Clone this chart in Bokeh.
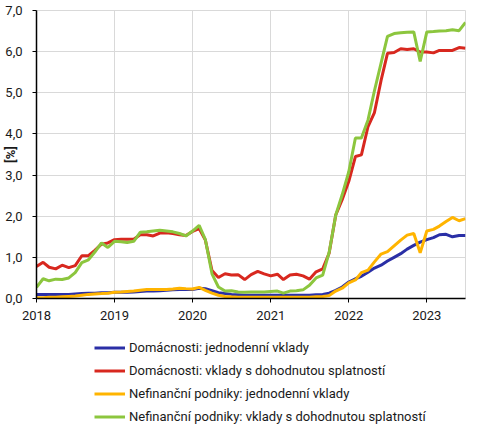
import pandas as pd
from bokeh.plotting import figure
from bokeh.layouts import column
from bokeh.models import Legend, LegendItem, FixedTicker, DatetimeTickFormatter, ColumnDataSource, Range1d
from bokeh.embed import file_html
from bokeh.resources import INLINE

months = pd.date_range("2018-01-01", periods=67, freq="MS")

hh_overnight = [
    0.10, 0.10, 0.10, 0.10, 0.10, 0.10, 0.11, 0.12, 0.13, 0.13, 0.14, 0.14,
    0.15, 0.15, 0.15, 0.16, 0.17, 0.18, 0.18, 0.19, 0.20, 0.21, 0.22, 0.22,
    0.22, 0.25, 0.24, 0.19, 0.14, 0.12, 0.10, 0.09, 0.08, 0.08, 0.08, 0.08,
    0.08, 0.08, 0.08, 0.08, 0.08, 0.08, 0.08, 0.09, 0.10, 0.13, 0.20, 0.28,
    0.40, 0.48, 0.54, 0.64, 0.74, 0.81, 0.91, 1.00, 1.09, 1.20, 1.29, 1.37,
    1.43, 1.48, 1.55, 1.56, 1.50, 1.53, 1.53,
]
hh_term = [
    0.78, 0.88, 0.76, 0.72, 0.81, 0.75, 0.80, 1.04, 1.04, 1.17, 1.32, 1.35,
    1.43, 1.44, 1.44, 1.44, 1.55, 1.55, 1.52, 1.59, 1.60, 1.58, 1.55, 1.53,
    1.63, 1.70, 1.42, 0.68, 0.51, 0.60, 0.57, 0.58, 0.46, 0.58, 0.66, 0.60,
    0.55, 0.59, 0.46, 0.57, 0.59, 0.55, 0.47, 0.65, 0.72, 1.10, 2.03, 2.40,
    2.85, 3.45, 3.49, 4.18, 4.52, 5.30, 5.96, 5.98, 6.07, 6.05, 6.07, 5.99,
    5.99, 5.97, 6.03, 6.03, 6.03, 6.10, 6.08,
]
nfc_overnight = [
    0.02, 0.02, 0.03, 0.03, 0.04, 0.05, 0.06, 0.08, 0.10, 0.11, 0.12, 0.13,
    0.15, 0.16, 0.17, 0.18, 0.20, 0.22, 0.22, 0.22, 0.22, 0.23, 0.25, 0.24,
    0.23, 0.27, 0.20, 0.13, 0.08, 0.05, 0.04, 0.03, 0.03, 0.03, 0.03, 0.03,
    0.03, 0.03, 0.03, 0.03, 0.03, 0.03, 0.03, 0.04, 0.05, 0.07, 0.18, 0.25,
    0.38, 0.45, 0.63, 0.69, 0.89, 1.08, 1.14, 1.28, 1.42, 1.54, 1.58, 1.11,
    1.64, 1.68, 1.76, 1.87, 1.97, 1.89, 1.94,
]
nfc_term = [
    0.27, 0.48, 0.43, 0.47, 0.46, 0.50, 0.63, 0.87, 0.94, 1.13, 1.35, 1.24,
    1.39, 1.38, 1.36, 1.39, 1.61, 1.62, 1.64, 1.66, 1.64, 1.62, 1.58, 1.52,
    1.64, 1.78, 1.43, 0.60, 0.28, 0.18, 0.19, 0.16, 0.15, 0.16, 0.16, 0.16,
    0.17, 0.18, 0.13, 0.18, 0.19, 0.21, 0.32, 0.50, 0.57, 1.12, 2.03, 2.52,
    3.08, 3.90, 3.90, 4.34, 5.05, 5.72, 6.37, 6.44, 6.46, 6.47, 6.48, 5.76,
    6.48, 6.49, 6.50, 6.51, 6.53, 6.51, 6.71,
]

series_names = [
    "Domácnosti: jednodenní vklady",
    "Domácnosti: vklady s dohodnutou splatností",
    "Nefinanční podniky: jednodenní vklady",
    "Nefinanční podniky: vklady s dohodnutou splatností",
]
series_colors = ["#2A2FA6", "#D8281F", "#FFB400", "#8CC63E"]
series_values = [hh_overnight, hh_term, nfc_overnight, nfc_term]

y_ticks = [0, 1, 2, 3, 4, 5, 6, 7]
y_tick_labels = ["0,0", "1,0", "2,0", "3,0", "4,0", "5,0", "6,0", "7,0"]
x_tick_years = ["2018", "2019", "2020", "2021", "2022", "2023"]

FONT = "Roboto"
TEXT_COLOR = "#1a1a1a"

p = figure(
    width=477, height=328,
    x_axis_type="datetime",
    x_range=(months[0], months[-1]),
    y_range=(0, 7),
    output_backend="svg", toolbar_location=None,
    min_border_left=30, min_border_right=12, min_border_top=10, min_border_bottom=30,
)
p.background_fill_color = "white"
p.border_fill_color = "white"
p.outline_line_color = "#D9D9D9"
p.outline_line_width = 1

source = ColumnDataSource(dict(x=months, **{f"s{i}": v for i, v in enumerate(series_values)}))
for i, col in enumerate(series_colors):
    p.line("x", f"s{i}", source=source, line_color=col, line_width=3)

p.yaxis.ticker = FixedTicker(ticks=y_ticks)
p.yaxis.major_label_overrides = {float(t): l for t, l in zip(y_ticks, y_tick_labels)}
p.xaxis.ticker = FixedTicker(ticks=[pd.Timestamp(f"{y}-01-01").value / 1e6 for y in x_tick_years])
p.xaxis.formatter = DatetimeTickFormatter(years="%Y", months="%Y", days="%Y", hours="%Y")

for ax in (p.xaxis, p.yaxis):
    ax.axis_line_color = "black"
    ax.axis_line_width = 1.5
    ax.major_tick_line_color = "black"
    ax.major_tick_out = 4
    ax.major_tick_in = 0
    ax.minor_tick_line_color = None
    ax.major_label_text_font = FONT
    ax.major_label_text_font_size = "13px"
    ax.major_label_text_color = TEXT_COLOR

p.yaxis.major_label_standoff = 10
p.xaxis.major_label_standoff = 8
p.yaxis.axis_label = "[%]"
p.yaxis.axis_label_text_font = FONT
p.yaxis.axis_label_text_font_style = "bold"
p.yaxis.axis_label_text_font_size = "13px"
p.yaxis.axis_label_text_color = TEXT_COLOR
p.yaxis.axis_label_standoff = -16

p.xgrid.ticker = p.xaxis.ticker
p.ygrid.ticker = p.yaxis.ticker
p.grid.grid_line_color = "#D9D9D9"
p.grid.grid_line_width = 1

# legend panel (separate figure beneath the chart)
lg = figure(
    width=477, height=100,
    x_range=Range1d(0, 1), y_range=Range1d(0, 1),
    output_backend="svg", toolbar_location=None,
    x_axis_location=None, y_axis_location=None,
    min_border=0,
)
lg.outline_line_color = None
lg.grid.visible = False
lg_src = ColumnDataSource(dict(x=[-5.0], y=[-5.0]))
lg_renderers = [lg.line("x", "y", source=lg_src, line_color=col, line_width=3) for col in series_colors]

legend = Legend(
    items=[LegendItem(label=n, renderers=[r]) for n, r in zip(series_names, lg_renderers)],
    location=(58, 0),
    orientation="vertical",
    border_line_alpha=0,
    background_fill_alpha=0,
    padding=0, margin=0, spacing=0,
    glyph_width=31, glyph_height=23, label_height=23,
    label_standoff=4,
    label_text_font=FONT, label_text_font_size="13px", label_text_color=TEXT_COLOR,
)
lg.add_layout(legend)

layout = column(p, lg, spacing=0)
open("out.html", "w").write(file_html(layout, INLINE))
